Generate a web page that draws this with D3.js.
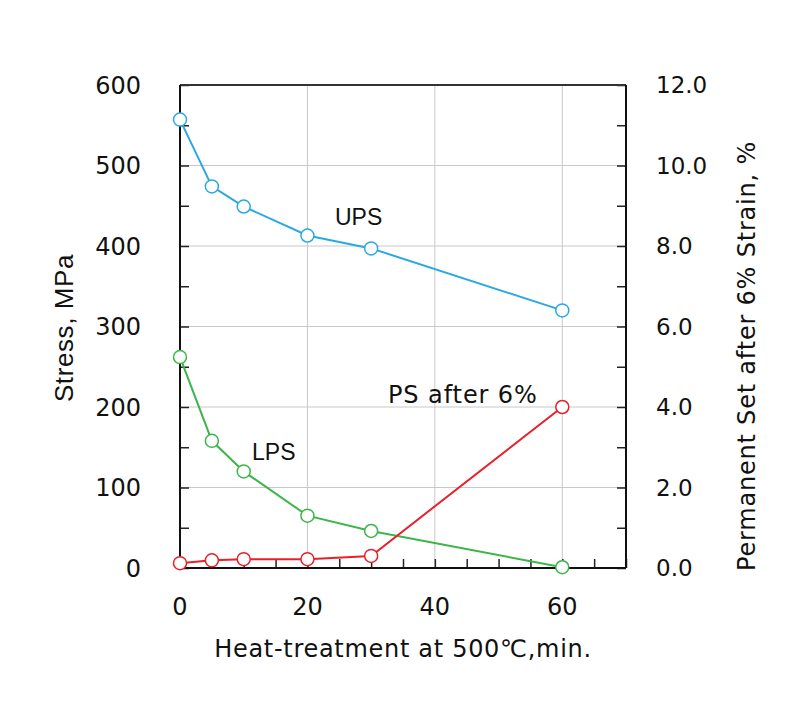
<!DOCTYPE html>
<html><head><meta charset="utf-8">
<script src="https://cdn.jsdelivr.net/npm/d3@7"></script>
<style>body{margin:0;background:#fff}</style>
</head><body>
<script>
const times = [0, 5, 10, 20, 30, 60];
const ups = [557, 474, 449, 413, 397, 320];
const lps = [262, 158, 120, 65, 46, 1];
const psAfter6 = [0.12, 0.19, 0.22, 0.22, 0.30, 4.0];
const xTicks = [0, 20, 40, 60];
const yTicks = [0, 100, 200, 300, 400, 500, 600];
const y2Ticks = [0, 2, 4, 6, 8, 10, 12];

const W = 811, H = 718;
const m = {left: 180, right: 626, top: 85, bottom: 568};
const svg = d3.select("body").append("svg").attr("width", W).attr("height", H);
const x = d3.scaleLinear().domain([0, 70]).range([m.left, m.right]);
const y = d3.scaleLinear().domain([0, 600]).range([m.bottom, m.top]);
const y2 = d3.scaleLinear().domain([0, 12]).range([m.bottom, m.top]);

const numFont = "'DejaVu Sans', sans-serif";
const txtFont = "'Liberation Sans', Arial, sans-serif";

// grid
const g = svg.append("g");
g.selectAll(".hg").data(yTicks.filter(d => d > 0 && d < 600)).join("line")
  .attr("x1", m.left).attr("x2", m.right).attr("y1", d => y(d)).attr("y2", d => y(d))
  .attr("stroke", "#c8c8c8").attr("stroke-width", 1);
g.selectAll(".vg").data(xTicks.filter(d => d > 0)).join("line")
  .attr("y1", m.top).attr("y2", m.bottom).attr("x1", d => x(d)).attr("x2", d => x(d))
  .attr("stroke", "#c8c8c8").attr("stroke-width", 1);

// axes with inward ticks
const axStyle = sel => { sel.select(".domain").remove(); sel.selectAll("line").attr("stroke", "#222").attr("stroke-width", 1.5); sel.selectAll("text").remove(); };
svg.append("g").attr("transform", `translate(${m.left},0)`)
  .call(d3.axisRight(y).tickValues(d3.range(0, 601, 50)).tickSize(9)).call(axStyle);
svg.append("g").attr("transform", `translate(${m.right},0)`)
  .call(d3.axisLeft(y2).tickValues(d3.range(0, 12.1, 1)).tickSize(9)).call(axStyle);
svg.append("g").attr("transform", `translate(0,${m.bottom})`)
  .call(d3.axisTop(x).tickValues(d3.range(0, 71, 5)).tickSize(9)).call(axStyle);

// frame
svg.append("line").attr("x1", m.left).attr("x2", m.right).attr("y1", m.top).attr("y2", m.top).attr("stroke", "#333").attr("stroke-width", 2);
svg.append("line").attr("x1", m.left).attr("x2", m.right).attr("y1", m.bottom).attr("y2", m.bottom).attr("stroke", "#111").attr("stroke-width", 2);
svg.append("line").attr("x1", m.left).attr("x2", m.left).attr("y1", m.top).attr("y2", m.bottom).attr("stroke", "#111").attr("stroke-width", 2);
svg.append("line").attr("x1", m.right).attr("x2", m.right).attr("y1", m.top).attr("y2", m.bottom).attr("stroke", "#111").attr("stroke-width", 2);

// tick labels
svg.append("g").selectAll("text").data(yTicks).join("text")
  .attr("x", 141).attr("y", d => y(d)).attr("dy", "0.36em").attr("text-anchor", "end")
  .attr("font-family", numFont).attr("font-size", 24).attr("fill", "#111").text(d => d);
svg.append("g").selectAll("text").data(y2Ticks).join("text")
  .attr("x", 656).attr("y", d => y2(d)).attr("dy", "0.36em").attr("text-anchor", "start")
  .attr("font-family", numFont).attr("font-size", 23).attr("fill", "#111").text(d => d.toFixed(1));
svg.append("g").selectAll("text").data(xTicks).join("text")
  .attr("x", d => x(d)).attr("y", 615).attr("text-anchor", "middle")
  .attr("font-family", numFont).attr("font-size", 24).attr("fill", "#111").text(d => d);

// axis titles
svg.append("text").attr("x", 403).attr("y", 657).attr("text-anchor", "middle")
  .attr("font-family", numFont).attr("font-size", 24).attr("letter-spacing", 0.7).attr("fill", "#111").text("Heat-treatment at 500℃,min.");
svg.append("text").attr("transform", "translate(73,328) rotate(-90)").attr("text-anchor", "middle")
  .attr("font-family", txtFont).attr("font-size", 26).attr("letter-spacing", 0.6).attr("fill", "#111").text("Stress, MPa");
svg.append("text").attr("transform", "translate(755,356) rotate(-90)").attr("text-anchor", "middle")
  .attr("font-family", numFont).attr("font-size", 24).attr("letter-spacing", 0.8).attr("fill", "#111").text("Permanent Set after 6% Strain, %");

// series
function series(vals, scale, color) {
  const pts = times.map((t, i) => [x(t), scale(vals[i])]);
  svg.append("path").attr("d", d3.line()(pts)).attr("fill", "none").attr("stroke", color).attr("stroke-width", 2);
  svg.append("g").selectAll("circle").data(pts).join("circle")
    .attr("cx", d => d[0]).attr("cy", d => d[1]).attr("r", 6.5)
    .attr("fill", "#fff").attr("stroke", color).attr("stroke-width", 1.5);
}
series(lps, y, "#3cb54a");
series(ups, y, "#2aa9e0");
series(psAfter6, y2, "#e8202a");

// labels
svg.append("text").attr("x", 335).attr("y", 225).attr("font-family", txtFont).attr("font-size", 23).attr("fill", "#111").text("UPS");
svg.append("text").attr("x", 252).attr("y", 460).attr("font-family", txtFont).attr("font-size", 23).attr("fill", "#111").text("LPS");
svg.append("text").attr("x", 388).attr("y", 403).attr("font-family", numFont).attr("font-size", 24).attr("letter-spacing", 0.9).attr("fill", "#111").text("PS after 6%");
</script>
</body></html>
